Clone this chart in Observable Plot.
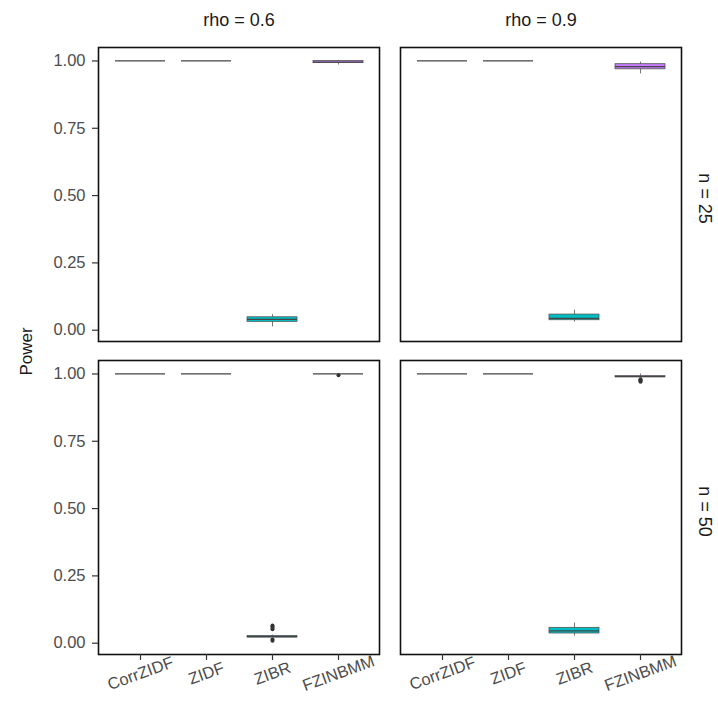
<!DOCTYPE html>
<html>
<head>
<meta charset="utf-8">
<script src="https://cdn.jsdelivr.net/npm/d3@7"></script>
<script src="https://cdn.jsdelivr.net/npm/@observablehq/plot@0.6"></script>
<style>
  html, body { margin: 0; padding: 0; background: #fff; }
  #chart svg { display: block; }
</style>
</head>
<body>
<div id="chart"></div>
<script>
// ---- data ----
const methods = ["CorrZIDF", "ZIDF", "ZIBR", "FZINBMM"];
const methodColors = ["#F8766D", "#7CAE00", "#00BFC4", "#C77CFF"];
const rhoLabels = ["rho = 0.6", "rho = 0.9"];
const nLabels = ["n = 25", "n = 50"];
const yTicks = [0, 0.25, 0.5, 0.75, 1];

// panels: (rho 0.6, n 25), (rho 0.9, n 25), (rho 0.6, n 50), (rho 0.9, n 50)
const panelRho = ["rho = 0.6", "rho = 0.9", "rho = 0.6", "rho = 0.9"];
const panelN   = ["n = 25", "n = 25", "n = 50", "n = 50"];

// per panel, values for [CorrZIDF, ZIDF, ZIBR, FZINBMM]
const whiskerLow  = [[1, 1, 0.012, 0.985], [1, 1, 0.030, 0.952], [1, 1, 0.020, 1], [1, 1, 0.026, 0.985]];
const quart1      = [[1, 1, 0.031, 0.992], [1, 1, 0.037, 0.969], [1, 1, 0.022, 1], [1, 1, 0.036, 0.988]];
const medians     = [[1, 1, 0.040, 0.996], [1, 1, 0.044, 0.979], [1, 1, 0.024, 1], [1, 1, 0.046, 0.990]];
const quart3      = [[1, 1, 0.048, 1.000], [1, 1, 0.058, 0.988], [1, 1, 0.027, 1], [1, 1, 0.057, 0.992]];
const whiskerHigh = [[1, 1, 0.058, 1.000], [1, 1, 0.074, 0.996], [1, 1, 0.030, 1], [1, 1, 0.075, 1.000]];

// outliers
const outlierPanel  = [2, 2, 2, 2, 2, 2, 2, 3, 3, 3, 3];
const outlierMethod = ["ZIBR", "ZIBR", "ZIBR", "ZIBR", "ZIBR", "ZIBR", "FZINBMM", "FZINBMM", "FZINBMM", "FZINBMM", "FZINBMM"];
const outlierValue  = [0.066, 0.062, 0.057, 0.052, 0.014, 0.009, 0.995, 0.980, 0.977, 0.974, 0.971];

// ---- tables built from the arrays ----
const boxes = [];
panelRho.forEach((rho, p) => {
  methods.forEach((m, i) => {
    boxes.push({rho, n: panelN[p], method: m,
      lo: whiskerLow[p][i], q1: quart1[p][i], med: medians[p][i],
      q3: quart3[p][i], hi: whiskerHigh[p][i]});
  });
});
const outliers = outlierValue.map((v, k) => ({
  rho: panelRho[outlierPanel[k]], n: panelN[outlierPanel[k]],
  method: outlierMethod[k], value: v
}));

const lineColor = "#555555";
const font = "'Liberation Sans', Arial, sans-serif";

const chart = Plot.plot({
  width: 718,
  height: 704,
  marginTop: 47,
  marginBottom: 49,
  marginLeft: 97,
  marginRight: 37,
  style: {fontFamily: font, background: "#fff", overflow: "visible"},
  fx: {domain: rhoLabels, paddingInner: 0.07, paddingOuter: 0, axis: null},
  fy: {domain: nLabels, paddingInner: 0.06, paddingOuter: 0, axis: null},
  x: {domain: methods, paddingInner: 0.25, paddingOuter: 0.225, align: 0.5},
  y: {domain: [-0.042, 1.05]},
  color: {domain: methods, range: methodColors},
  marks: [
    Plot.ruleX(boxes, {fx: "rho", fy: "n", x: "method", y1: "lo", y2: "hi",
      stroke: lineColor, strokeWidth: 0.8}),
    Plot.barY(boxes, {fx: "rho", fy: "n", x: "method", y1: "q1", y2: "q3",
      fill: "method", stroke: lineColor, strokeWidth: 0.8}),
    Plot.tickY(boxes, {fx: "rho", fy: "n", x: "method", y: "med",
      stroke: "#444", strokeWidth: 1.3}),
    Plot.dot(outliers, {fx: "rho", fy: "n", x: "method", y: "value",
      r: 2, fill: "#333", stroke: "none"}),
    Plot.frame({stroke: "#111", strokeWidth: 1.6}),
    Plot.axisY({ticks: yTicks, tickFormat: ".2f", tickSize: 6, tickPadding: 7,
      fontSize: 16.5, color: "#4d4d4d", stroke: "#333", strokeWidth: 1.2, label: null}),
    Plot.axisX({tickRotate: -20, textAnchor: "middle", tickSize: 6, tickPadding: 13,
      fontSize: 16.5, color: "#4d4d4d", stroke: "#333", strokeWidth: 1.2, label: null}),
    // column strip labels
    Plot.text(rhoLabels, {fx: d => d, fy: () => nLabels[0], text: d => d,
      frameAnchor: "top", lineAnchor: "middle", textAnchor: "middle", dy: -27,
      fontSize: 18, fill: "#1a1a1a"}),
    // row strip labels
    Plot.text(nLabels, {fy: d => d, fx: () => rhoLabels[1], text: d => d,
      frameAnchor: "right", lineAnchor: "middle", textAnchor: "middle", dx: 23, dy: 4,
      rotate: 90, fontSize: 18, fill: "#1a1a1a"}),
    // y axis title
    Plot.text(["Power"], {fx: () => rhoLabels[0], fy: () => nLabels[1], text: d => d,
      frameAnchor: "top-left", lineAnchor: "middle", textAnchor: "middle", dx: -72, dy: -9,
      rotate: -90, fontSize: 17, fill: "#1a1a1a"})
  ]
});
document.getElementById("chart").appendChild(chart);
</script>
</body>
</html>
